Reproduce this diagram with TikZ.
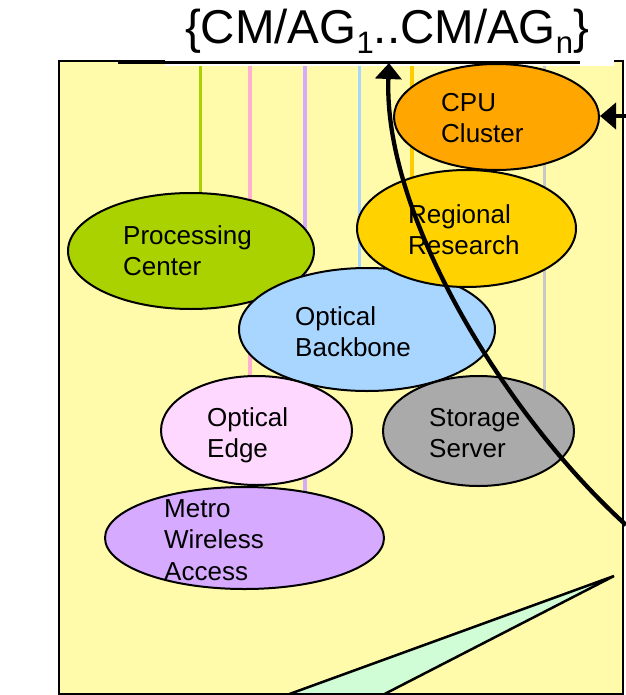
\documentclass[tikz,border=0pt]{standalone}
\usepackage{fontspec}
\setmainfont{Liberation Sans}
\usetikzlibrary{arrows.meta,shapes.geometric}
\definecolor{bgyellow}{RGB}{255,251,170}
\definecolor{cpuorange}{RGB}{255,166,0}
\definecolor{regyellow}{RGB}{255,210,0}
\definecolor{procgreen}{RGB}{170,210,0}
\definecolor{backblue}{RGB}{168,214,255}
\definecolor{edgepink}{RGB}{255,216,255}
\definecolor{storgray}{RGB}{170,170,170}
\definecolor{metropurple}{RGB}{214,170,255}
\definecolor{mint}{RGB}{208,252,214}
\definecolor{pinkline}{RGB}{255,176,208}
\definecolor{goldline}{RGB}{255,204,0}
\definecolor{grayline}{RGB}{200,200,200}
\tikzset{
  blob/.style={ellipse, draw=black, line width=2pt, inner sep=0pt},
  lbl/.style={anchor=north west, inner sep=0pt, align=left, font=\fontsize{26}{31.5}\selectfont},
  vline/.style={line width=3.5pt},
  bigarrow/.style={line width=4.3pt, -{Triangle[length=16pt,width=26pt]}},
}
\begin{document}
\begin{tikzpicture}[x=1pt,y=-1pt]
\useasboundingbox (0,0) rectangle (625,695);
% background panel
\fill[bgyellow] (59,61) rectangle (623,694);
% triangle (clipped to panel)
\begin{scope}
\clip (59,61) rectangle (623,694);
\coordinate (tritip) at (614,576);
\coordinate (triL) at (218,720);
\coordinate (triR) at (334,720);
\draw[fill=mint, line width=2.5pt, line join=miter] (tritip) -- (triL) -- (triR) -- cycle;
\end{scope}
\draw[line width=1.5pt] (59,61) rectangle (623,694);
% title box
\fill[white] (165,-2) rectangle (614,66);
\coordinate (ulA) at (118,62.5);
\coordinate (ulB) at (580,62.5);
\draw[line width=3pt] (ulA) -- (ulB);
\node[anchor=base, inner sep=0pt, font=\fontsize{47.5}{50}\selectfont] (title) at (387,44)
  {\{CM/AG\raisebox{-10pt}{\fontsize{31}{31}\selectfont 1}..CM/AG\raisebox{-10pt}{\fontsize{31}{31}\selectfont n}\}};
% top coordinates for vertical lines
\coordinate (t1) at (200.5,66);
\coordinate (t2) at (250,66);
\coordinate (t3) at (305,66);
\coordinate (t4) at (359.5,66);
\coordinate (t5) at (412,66);
\coordinate (t6) at (544.5,66);
\path (191,251) coordinate (pP);
\draw[vline, procgreen] (t1) -- (t1 |- pP);
\draw[vline, pinkline] (t2) -- (250,430);
\draw[vline, metropurple] (t3) -- (305,538);
\draw[vline, backblue] (t4) -- (359.5,330);
\draw[vline, goldline] (t5) -- (412,228);
\draw[vline, grayline] (t6) -- (544.5,431);
% nodes in stacking order
\node[blob, fill=procgreen, minimum width=246pt, minimum height=116pt] (proc) at (191,251) {};
\node[blob, fill=backblue, minimum width=256pt, minimum height=123pt] (back) at (367,329.5) {};
\node[blob, fill=regyellow, minimum width=219pt, minimum height=117pt] (reg) at (466.5,228.5) {};
\node[blob, fill=cpuorange, minimum width=205pt, minimum height=106pt] (cpu) at (496.5,117) {};
\node[blob, fill=edgepink, minimum width=191pt, minimum height=109pt] (edge) at (256.5,430.5) {};
\node[blob, fill=storgray, minimum width=191pt, minimum height=110pt] (stor) at (478.5,431) {};
\node[blob, fill=metropurple, minimum width=279pt, minimum height=102pt] (metro) at (244.5,538) {};
% labels
\node[lbl] (cpuT) at (441,88.95) {\strut CPU\\Cluster};
\node[lbl] (regT) at (408,200.95) {\strut Regional\\Research};
\node[lbl] (procT) at (123,221.95) {\strut Processing\\Center};
\node[lbl] (backT) at (295,302.95) {\strut Optical\\Backbone};
\node[lbl] (edgeT) at (207,403.95) {\strut Optical\\Edge};
\node[lbl] (storT) at (429,403.95) {\strut Storage\\Server};
\node[lbl] (metroT) at (164,494.95) {\strut Metro\\Wireless\\Access};
% arrows
\coordinate (cstart) at (626,525);
\coordinate (ctip) at (389,63);
\draw[bigarrow] (cstart) .. controls (505,415) and (383,215) .. (ctip);
\coordinate (rin) at (630,116);
\draw[bigarrow] (rin) -- (rin -| cpu.east);
\end{tikzpicture}
\end{document}
